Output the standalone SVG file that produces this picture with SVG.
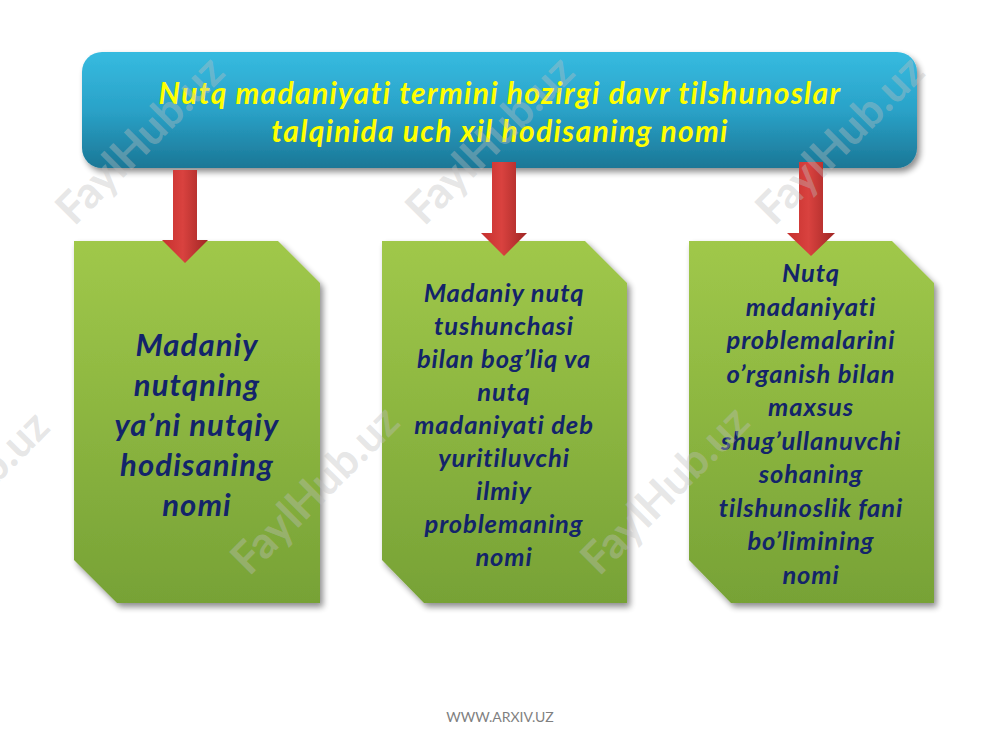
<svg xmlns="http://www.w3.org/2000/svg" width="1000" height="750" viewBox="0 0 1000 750">
<defs>
  <linearGradient id="gBanner" x1="0" y1="0" x2="0" y2="1">
    <stop offset="0" stop-color="#36bbe0"/>
    <stop offset="0.5" stop-color="#2aa2c8"/>
    <stop offset="1" stop-color="#1b7796"/>
  </linearGradient>
  <linearGradient id="gBox" x1="0" y1="0" x2="0" y2="1">
    <stop offset="0" stop-color="#a0c84a"/>
    <stop offset="1" stop-color="#77a236"/>
  </linearGradient>
  <linearGradient id="gArrow" x1="0" y1="0" x2="1" y2="0">
    <stop offset="0" stop-color="#c6302e"/>
    <stop offset="0.45" stop-color="#d9423f"/>
    <stop offset="1" stop-color="#a02624"/>
  </linearGradient>
  <filter id="shadow" x="-10%" y="-10%" width="130%" height="130%">
    <feGaussianBlur in="SourceAlpha" stdDeviation="3"/>
    <feOffset dx="3" dy="4" result="b"/>
    <feComponentTransfer><feFuncA type="linear" slope="0.45"/></feComponentTransfer>
    <feMerge><feMergeNode/><feMergeNode in="SourceGraphic"/></feMerge>
  </filter>
</defs>
<style>
  .title { font-family: Lato, "Liberation Sans", sans-serif; font-weight: bold; font-style: italic; font-size: 30px; letter-spacing: 1.3px; fill: #ffff00; text-anchor: middle; }
  .big { font-family: Lato, "Liberation Sans", sans-serif; font-weight: bold; font-style: italic; font-size: 31px; letter-spacing: 1.1px; fill: #13246a; text-anchor: middle; }
  .small { font-family: Lato, "Liberation Sans", sans-serif; font-weight: bold; font-style: italic; font-size: 25.5px; letter-spacing: 0.9px; fill: #13246a; text-anchor: middle; }
  .foot { font-family: Lato, "Liberation Sans", sans-serif; font-size: 14px; fill: #7f7f7f; text-anchor: middle; }
  .wm { font-family: Lato, "Liberation Sans", sans-serif; font-weight: bold; font-size: 44px; fill: #bfbfbf; fill-opacity: 0.4; text-anchor: middle; }
  .box { fill: url(#gBox); filter: url(#shadow); }
  .arrow { fill: url(#gArrow); }
</style>
<rect width="1000" height="750" fill="#ffffff"/>

<g id="banner">
  <rect x="82" y="52" width="835" height="116" rx="20" ry="20" fill="url(#gBanner)" filter="url(#shadow)"/>
  <text class="title" x="500" y="104">Nutq madaniyati termini hozirgi davr tilshunoslar</text>
  <text class="title" x="500" y="142">talqinida uch xil hodisaning nomi</text>
</g>

<g id="box1">
  <path class="box" d="M74,241 H278 L320,283 V603 H117 L74,560 Z"/>
  <text class="big" x="197" y="356">Madaniy</text>
  <text class="big" x="197" y="396">nutqning</text>
  <text class="big" x="197" y="436">ya’ni nutqiy</text>
  <text class="big" x="197" y="476">hodisaning</text>
  <text class="big" x="197" y="516">nomi</text>
</g>

<g id="box2">
  <path class="box" d="M382,241 H585 L627,283 V603 H424 L382,560 Z"/>
  <text class="small" x="504" y="302">Madaniy nutq</text>
  <text class="small" x="504" y="335">tushunchasi</text>
  <text class="small" x="504" y="368">bilan bog’liq va</text>
  <text class="small" x="504" y="401">nutq</text>
  <text class="small" x="504" y="434">madaniyati deb</text>
  <text class="small" x="504" y="467">yuritiluvchi</text>
  <text class="small" x="504" y="500">ilmiy</text>
  <text class="small" x="504" y="533">problemaning</text>
  <text class="small" x="504" y="566">nomi</text>
</g>

<g id="box3">
  <path class="box" d="M689,241 H892 L934,283 V603 H731 L689,560 Z"/>
  <text class="small" x="811" y="282">Nutq</text>
  <text class="small" x="811" y="316">madaniyati</text>
  <text class="small" x="811" y="349">problemalarini</text>
  <text class="small" x="811" y="383">o’rganish bilan</text>
  <text class="small" x="811" y="416">maxsus</text>
  <text class="small" x="811" y="450">shug’ullanuvchi</text>
  <text class="small" x="811" y="483">sohaning</text>
  <text class="small" x="811" y="517">tilshunoslik fani</text>
  <text class="small" x="811" y="550">bo’limining</text>
  <text class="small" x="811" y="584">nomi</text>
</g>

<g id="connectors">
  <path class="arrow" d="M173,170 H197 V240 H208 L185,263 L162,240 H173 Z"/>
  <path class="arrow" d="M492,162 H516 V233 H527 L504,256 L481,233 H492 Z"/>
  <path class="arrow" d="M799,162 H823 V233 H835 L811,256 L787,233 H799 Z"/>
</g>

<g id="watermarks">
  <text class="wm" transform="translate(140,140) rotate(-45)" dy="15">FaylHub.uz</text>
  <text class="wm" transform="translate(490,140) rotate(-45)" dy="15">FaylHub.uz</text>
  <text class="wm" transform="translate(840,140) rotate(-45)" dy="15">FaylHub.uz</text>
  <text class="wm" transform="translate(-35,495) rotate(-45)" dy="15">FaylHub.uz</text>
  <text class="wm" transform="translate(315,490) rotate(-45)" dy="15">FaylHub.uz</text>
  <text class="wm" transform="translate(665,490) rotate(-45)" dy="15">FaylHub.uz</text>
</g>

<text class="foot" x="500" y="722">WWW.ARXIV.UZ</text>
</svg>
